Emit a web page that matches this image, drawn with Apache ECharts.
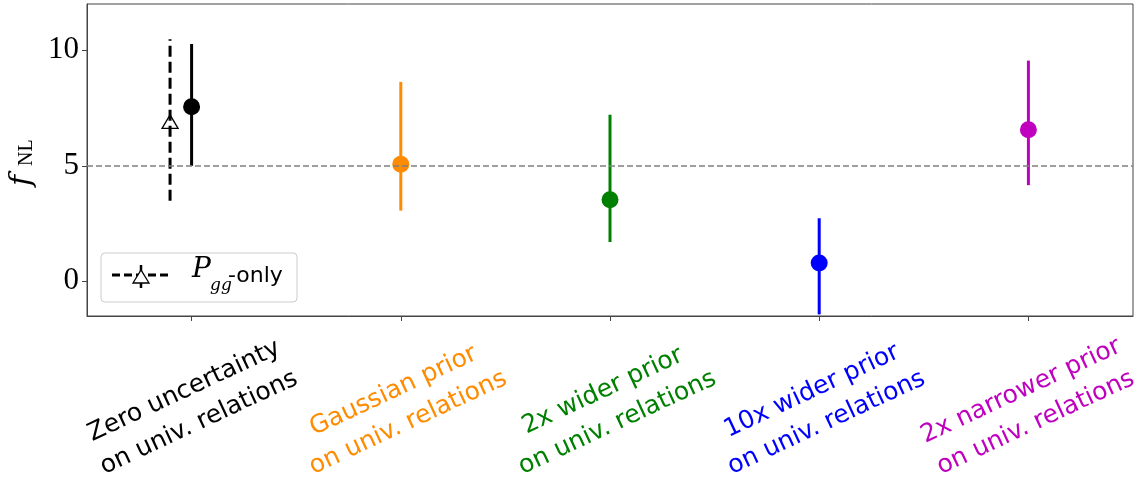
<!DOCTYPE html>
<html><head><meta charset="utf-8">
<script src="https://cdn.jsdelivr.net/npm/echarts@6/dist/echarts.min.js"></script>
<style>html,body{margin:0;padding:0;background:#fff}#c{width:1146px;height:478px}</style>
</head><body><div id="c"></div>
<script>
// ---- data ----
const categories = [
  'Zero uncertainty\non univ. relations',
  'Gaussian prior\non univ. relations',
  '2x wider prior\non univ. relations',
  '10x wider prior\non univ. relations',
  '2x narrower prior\non univ. relations'
];
const centers = [7.55, 5.07, 3.53, 0.79, 6.56];
const lows    = [5.00, 3.06, 1.70, -1.43, 4.16];
const highs   = [10.27, 8.63, 7.21, 2.73, 9.55];
const pggCenter = [6.90];
const pggLow    = [3.49];
const pggHigh   = [10.48];
const yTicks = [0, 5, 10];
const refValue = 5;
const colors = ['#000000', '#ff8c00', '#008000', '#0000ff', '#bf00bf'];

const chart = echarts.init(document.getElementById('c'), null, {renderer: 'canvas'});

const errData = categories.map((c, i) => [i, lows[i], highs[i]]);
const ptData = categories.map((c, i) => ({value: [i, centers[i]], itemStyle: {color: colors[i], opacity: 1}}));
const pggData = pggCenter.map((v, i) => [i, pggLow[i], pggHigh[i], v]);

const option = {
  animation: false,
  backgroundColor: '#ffffff',
  grid: {left: 87, right: 13, top: 4, bottom: 162, show: true, borderColor: '#444', borderWidth: 1,
         containLabel: false, outerBoundsMode: 'none'},
  xAxis: {
    type: 'category', data: categories, boundaryGap: true,
    axisLine: {show: true, onZero: false, lineStyle: {color: '#444', width: 1}},
    axisTick: {show: true, alignWithLabel: true, length: 5, lineStyle: {color: '#444'}},
    axisLabel: {
      interval: 0, rotate: 25, align: 'center', verticalAlign: 'middle', margin: 91,
      fontFamily: 'DejaVu Sans', fontSize: 25, lineHeight: 35,
      color: (v, i) => colors[i]
    },
    splitLine: {show: false}
  },
  yAxis: {
    type: 'value', min: -1.5, max: 12,
    axisLine: {show: true, onZero: false, lineStyle: {color: '#444', width: 1}},
    axisTick: {show: true, length: 5, customValues: yTicks, lineStyle: {color: '#444'}},
    axisLabel: {customValues: yTicks, fontFamily: 'Liberation Serif', fontSize: 31, color: '#000', margin: 8},
    splitLine: {show: false}
  },
  series: [
    {
      type: 'scatter', data: [], silent: true, z: 1,
      markLine: {
        silent: true, symbol: 'none', label: {show: false},
        lineStyle: {color: '#808080', width: 1.5, type: [6, 3], opacity: 1},
        data: [{yAxis: refValue}]
      }
    },
    {
      type: 'custom', z: 3, silent: true,
      data: errData,
      renderItem: function (params, api) {
        const i = api.value(0);
        const p1 = api.coord([i, api.value(1)]);
        const p2 = api.coord([i, api.value(2)]);
        return {type: 'line', shape: {x1: p1[0], y1: p1[1], x2: p2[0], y2: p2[1]},
                style: {stroke: colors[i], lineWidth: 3}};
      }
    },
    {
      type: 'scatter', z: 4, silent: true, symbol: 'circle', symbolSize: 17,
      itemStyle: {opacity: 1},
      data: ptData
    },
    {
      type: 'custom', z: 3, silent: true,
      data: pggData,
      renderItem: function (params, api) {
        const i = api.value(0);
        const off = -0.103 * api.size([1, 0])[0];
        const p1 = api.coord([i, api.value(1)]);
        const p2 = api.coord([i, api.value(2)]);
        const pc = api.coord([i, api.value(3)]);
        const x = p1[0] + off;
        return {type: 'group', children: [
          {type: 'line', shape: {x1: x, y1: p1[1], x2: x, y2: p2[1]},
           style: {stroke: '#000', lineWidth: 3, lineDash: [11, 5]}},
          {type: 'polygon', shape: {points: [[x, pc[1] - 7], [x - 8, pc[1] + 6.5], [x + 8, pc[1] + 6.5]]},
           style: {fill: 'none', stroke: '#000', lineWidth: 1.3}}
        ]};
      }
    }
  ],
  graphic: [
    // y-axis title
    {type: 'group', x: 22, y: 186, rotation: Math.PI / 2, children: [
      {type: 'text', x: 0, y: 0, style: {text: 'f', fontFamily: 'DejaVu Serif', fontStyle: 'italic', fontSize: 30, fill: '#000', verticalAlign: 'middle', align: 'left'}},
      {type: 'text', x: 20, y: 5, style: {text: 'NL', fontFamily: 'Liberation Serif', fontSize: 20, fill: '#000', verticalAlign: 'middle', align: 'left'}}
    ]},
    // legend
    {type: 'rect', shape: {x: 101, y: 253, width: 196, height: 49, r: 4},
     style: {fill: 'rgba(255,255,255,0.8)', stroke: '#cccccc', lineWidth: 1}, z: 10},
    {type: 'line', shape: {x1: 112, y1: 275, x2: 169, y2: 275}, style: {stroke: '#000', lineWidth: 3, lineDash: [8, 4]}, z: 11},
    {type: 'line', shape: {x1: 141, y1: 265, x2: 141, y2: 288}, style: {stroke: '#000', lineWidth: 2.5}, z: 11},
    {type: 'polygon', shape: {points: [[141, 270], [133, 283], [149, 283]]}, style: {fill: '#fff', stroke: '#000', lineWidth: 1.3}, z: 12},
    {type: 'text', x: 192, y: 284, style: {text: 'P', fontFamily: 'DejaVu Serif', fontStyle: 'italic', fontSize: 28, fill: '#000', verticalAlign: 'bottom', align: 'left'}, z: 11},
    {type: 'text', x: 210, y: 294, style: {text: 'gg', fontFamily: 'DejaVu Serif', fontStyle: 'italic', fontSize: 17, fill: '#000', verticalAlign: 'bottom', align: 'left'}, z: 11},
    {type: 'text', x: 228, y: 287, style: {text: '-only', fontFamily: 'DejaVu Sans', fontSize: 22, fill: '#000', verticalAlign: 'bottom', align: 'left'}, z: 11}
  ]
};
chart.setOption(option);
</script>
</body></html>
